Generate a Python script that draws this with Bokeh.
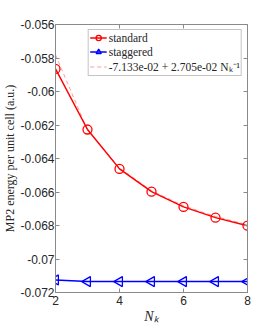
import numpy as np
from bokeh.plotting import figure
from bokeh.models import LinearAxis, FixedTicker, Legend, LegendItem, Range1d
from bokeh.embed import file_html
from bokeh.resources import INLINE

# data
nk = [2, 3, 4, 5, 6, 7, 8]
standard = [-0.05865, -0.06227, -0.06462, -0.06598, -0.06689, -0.06753, -0.06801]
staggered = [-0.07125, -0.07135, -0.07135, -0.07135, -0.07135, -0.07135, -0.07135]
fit_a = -7.133e-02
fit_b = 2.705e-02
fit_x = [2, 3, 4, 5, 6, 7, 8]
fit_y = [fit_a + fit_b / n for n in fit_x]
xticks = [2, 4, 6, 8]
yticks = [-0.072, -0.070, -0.068, -0.066, -0.064, -0.062, -0.060, -0.058, -0.056]
ytick_labels = {-0.072: "-0.072", -0.070: "-0.07", -0.068: "-0.068", -0.066: "-0.066",
                -0.064: "-0.064", -0.062: "-0.062", -0.060: "-0.06", -0.058: "-0.058",
                -0.056: "-0.056"}

AX = "#8a8a8a"
TXT = "#262626"

p = figure(frame_width=192, frame_height=268, output_backend="svg", toolbar_location=None,
           x_range=Range1d(2, 8), y_range=Range1d(-0.072, -0.056),
           min_border_left=5, min_border_right=14, min_border_top=24, min_border_bottom=5)
p.grid.visible = False
p.outline_line_color = AX

def style_axis(ax, labels=True):
    ax.axis_line_color = AX
    ax.major_tick_line_color = AX
    ax.minor_tick_line_color = None
    ax.major_tick_in = 4
    ax.major_tick_out = 0
    ax.major_label_text_font = "Liberation Sans"
    ax.major_label_text_font_size = "12px"
    ax.major_label_standoff = 3
    if labels:
        ax.major_label_text_color = TXT
    else:
        ax.major_label_text_color = None
        ax.major_label_standoff = 0

p.xaxis.ticker = FixedTicker(ticks=xticks)
p.yaxis.ticker = FixedTicker(ticks=yticks)
p.yaxis.major_label_overrides = {k: v for k, v in ytick_labels.items()}
style_axis(p.xaxis[0])
style_axis(p.yaxis[0])
p.yaxis.major_label_standoff = 1
p.xaxis.axis_label = "N\u2096"
p.xaxis.axis_label_text_font = "Liberation Serif"
p.xaxis.axis_label_text_font_style = "italic"
p.xaxis.axis_label_text_font_size = "14px"
p.xaxis.axis_label_text_color = TXT
p.xaxis.axis_label_standoff = 1
p.yaxis.axis_label = "MP2 energy per unit cell (a.u.)"
p.yaxis.axis_label_text_font = "Liberation Serif"
p.yaxis.axis_label_text_font_style = "normal"
p.yaxis.axis_label_text_font_size = "12px"
p.yaxis.axis_label_text_color = TXT
p.yaxis.axis_label_standoff = 0

top = LinearAxis(ticker=FixedTicker(ticks=xticks))
style_axis(top, labels=False)
p.add_layout(top, "above")
right = LinearAxis(ticker=FixedTicker(ticks=yticks))
style_axis(right, labels=False)
p.add_layout(right, "right")

fit = p.line(fit_x, fit_y, line_color="#ff9a9a", line_dash="4 3", line_width=1)
l1 = p.line(nk, standard, line_color="red", line_width=1.5)
s1 = p.scatter(nk, standard, marker="circle", size=9, fill_color=None, line_color="red", line_width=1.3)
l2 = p.line(nk, staggered, line_color="blue", line_width=1.5)
s2 = p.scatter(nk, staggered, marker="triangle", angle=np.pi / 2, size=10, fill_color=None,
               line_color="blue", line_width=1.3)

legend = Legend(items=[
    LegendItem(label="standard", renderers=[l1, s1]),
    LegendItem(label="staggered", renderers=[l2, s2]),
    LegendItem(label="-7.133e-02 + 2.705e-02 N\u2096\u207b\u00b9", renderers=[fit]),
], location="top_right")
legend.label_text_font = "Liberation Serif"
legend.label_text_font_size = "11.5px"
legend.label_text_color = TXT
legend.label_height = 13
legend.label_standoff = 2
legend.glyph_width = 17
legend.glyph_height = 13
legend.spacing = 1
legend.padding = 1
legend.margin = 5
legend.border_line_color = AX
legend.background_fill_alpha = 1
p.add_layout(legend)

open("out.html", "w").write(file_html(p, INLINE))
